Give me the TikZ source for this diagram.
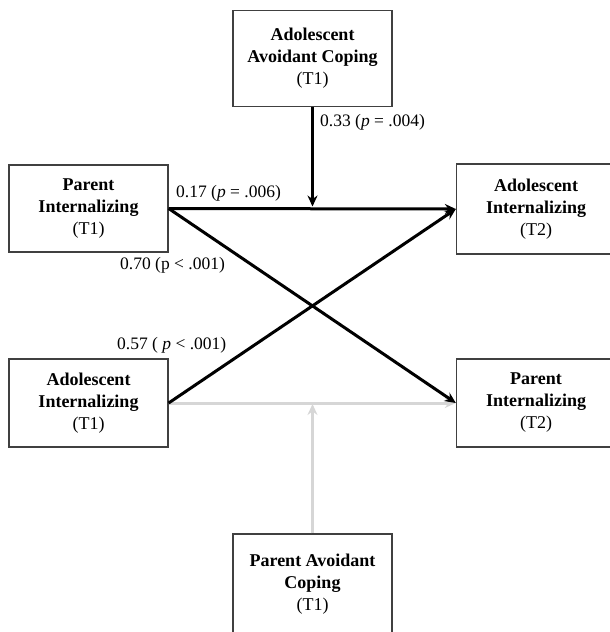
\documentclass[tikz,border=0pt]{standalone}
\usepackage{fontspec}
\setmainfont{Liberation Serif}
\usetikzlibrary{arrows.meta}
\definecolor{boxgray}{RGB}{64,64,64}
\definecolor{pathgray}{RGB}{214,214,214}
\tikzset{
    varbox/.style={draw=boxgray, line width=1.3pt, minimum width=159pt, align=center,
        inner sep=0pt, font=\fontsize{18}{22}\selectfont\bfseries},
    sigpath/.style={line width=3pt, -{Stealth[length=11pt,width=10pt]}},
    nspath/.style={line width=3pt, draw=pathgray, -{Stealth[length=11pt,width=10pt]}},
    coef/.style={inner sep=0pt, anchor=west, font=\fontsize{17.5}{20}\selectfont}
}
\begin{document}
\begin{tikzpicture}[x=1pt, y=-1pt]
        % Marco
        \useasboundingbox (0,0) rectangle (610,632);
        \clip (0,0) rectangle (610,632);

        % Variables
        \node[varbox, minimum height=96pt] (adcop) at (312.5,58.5) {Adolescent\\Avoidant Coping\\{\normalfont (T1)}};
        \node[varbox, minimum height=87pt] (parint1) at (88.5,208.5) {Parent\\Internalizing\\{\normalfont (T1)}};
        \node[varbox, minimum height=90pt] (adint2) at (536,209) {Adolescent\\Internalizing\\{\normalfont (T2)}};
        \node[varbox, minimum height=88pt] (adint1) at (88.5,403) {Adolescent\\Internalizing\\{\normalfont (T1)}};
        \node[varbox, minimum height=88pt] (parint2) at (536,403) {Parent\\Internalizing\\{\normalfont (T2)}};
        \node[varbox, minimum height=100pt] (parcop) at (312.5,584) {Parent Avoidant\\Coping\\{\normalfont (T1)}};

        % Puntos de moderación
        \coordinate (modtop) at (adcop.south |- parint1.east);
        \coordinate (modbot) at (parcop.north |- adint1.east);

        % Caminos no significativos
        \draw[nspath] (adint1.east) -- (parint2.west);
        \draw[nspath, shorten >=1pt] (parcop.north) -- (modbot);

        % Caminos significativos
        \draw[sigpath] (parint1.east) -- (adint2.west);
        \draw[sigpath] (parint1.east) -- (parint2.west);
        \draw[sigpath] (adint1.east) -- (adint2.west);
        \draw[sigpath, shorten >=2pt] (adcop.south) -- (modtop);

        % Coeficientes
        \node[coef] (coefadcop) at (320,122) {0.33 (\textit{p} = .004)};
        \node[coef] (coefpar) at (176,193) {0.17 (\textit{p} = .006)};
        \node[coef] (coefcross) at (120,265) {0.70 (p < .001)};
        \node[coef] (coefad) at (117,345) {0.57 ( \textit{p} < .001)};
    \end{tikzpicture}
\end{document}
